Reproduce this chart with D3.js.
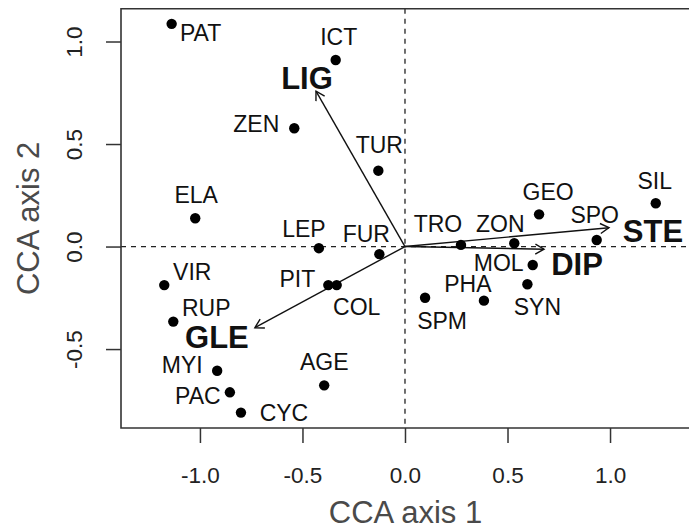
<!DOCTYPE html>
<html><head><meta charset="utf-8">
<script src="https://cdn.jsdelivr.net/npm/d3@7"></script>
<style>body{margin:0;background:#fff}svg{display:block}</style>
</head><body>
<svg id="c" width="689" height="529"></svg>
<script>
// species scores
const species = ["PAT","ICT","ZEN","ELA","LEP","TUR","FUR","TRO","ZON","GEO","SPO","SIL","MOL","SYN","PHA","SPM","COL","PIT","VIR","RUP","MYI","PAC","CYC","AGE"];
const axis1 = [-1.138,-0.338,-0.540,-1.023,-0.420,-0.130,-0.125,0.273,0.533,0.654,0.935,1.223,0.623,0.597,0.385,0.098,-0.333,-0.374,-1.174,-1.130,-0.916,-0.854,-0.800,-0.394];
const axis2 = [1.086,0.910,0.577,0.138,-0.008,0.370,-0.037,0.008,0.016,0.157,0.032,0.211,-0.090,-0.184,-0.264,-0.250,-0.188,-0.188,-0.188,-0.366,-0.606,-0.711,-0.810,-0.677];
// environmental vectors
const envVars = ["LIG","STE","DIP","GLE"];
const env1 = [-0.434,0.995,0.678,-0.732];
const env2 = [0.758,0.092,-0.013,-0.396];
// tick labels
const xTicks = [-1.0,-0.5,0.0,0.5,1.0];
const yTicks = [-0.5,0.0,0.5,1.0];

// label placement (pixel offsets of label centre from point) – layout only
const spLabelOff = {PAT:[29,9],ICT:[3,-23],ZEN:[-38,-4],ELA:[1,-23],LEP:[-15,-19],TUR:[1,-26],FUR:[-13,-20],TRO:[-23,-21],ZON:[-14,-19],GEO:[9,-23],SPO:[-2,-25],SIL:[-1,-22],MOL:[-34,-2],SYN:[10,23],PHA:[-16,-17],SPM:[17,23],COL:[20,22],PIT:[-31,-6],VIR:[28,-13],RUP:[33,-14],MYI:[-35,-6],PAC:[-32,3],CYC:[43,0],AGE:[0,-24]};
const envLabelOff = {LIG:[-9,-13],STE:[44,3],DIP:[33,15],GLE:[-38,9]};

const svg = d3.select("#c");
const L=121, R=690, T=8.7, B=428;
const x = d3.scaleLinear().domain([-1.385,1.39]).range([L,R]);
const y = d3.scaleLinear().domain([-0.885,1.16]).range([B,T]);
const font = "Liberation Sans, Arial, sans-serif";

// dashed zero lines
svg.append("line").attr("x1",x(0)).attr("x2",x(0)).attr("y1",T).attr("y2",B)
  .attr("stroke","#222").attr("stroke-width",1.3).attr("stroke-dasharray","5,5");
svg.append("line").attr("x1",L).attr("x2",R).attr("y1",y(0)).attr("y2",y(0))
  .attr("stroke","#222").attr("stroke-width",1.3).attr("stroke-dasharray","5,5");

// axes
const gx = svg.append("g").attr("transform",`translate(0,${B})`)
  .call(d3.axisBottom(x).tickValues(xTicks).tickFormat(d3.format(".1f")).tickSize(15).tickSizeOuter(0).tickPadding(24));
const gy = svg.append("g").attr("transform",`translate(${L},0)`)
  .call(d3.axisLeft(y).tickValues(yTicks).tickFormat(d3.format(".1f")).tickSize(15).tickSizeOuter(0));
[gx,gy].forEach(g=>{
  g.select(".domain").remove();
  g.selectAll(".tick line").attr("stroke","#333").attr("stroke-width",1.5);
  g.selectAll(".tick text").attr("font-family",font).attr("font-size",22.5).attr("fill","#222");
});
gx.selectAll(".tick text").text(d=>d3.format(".1f")(d).replace("−","-"));
gy.selectAll(".tick text").text(d=>d3.format(".1f")(d).replace("−","-"))
  .attr("x",0).attr("dy",null).attr("dominant-baseline",null)
  .attr("text-anchor","middle")
  .attr("transform","translate(-47,0) rotate(-90)")
  .attr("y",8);

// box (left, top, bottom)
svg.append("path").attr("d",`M${R},${T}H${L}V${B}H${R}`).attr("fill","none")
  .attr("stroke","#333").attr("stroke-width",1.6);

// axis titles
svg.append("text").attr("x",(L+R)/2).attr("y",523).attr("text-anchor","middle")
  .attr("font-family",font).attr("font-size",31).attr("fill","#4a4a4a").text("CCA axis 1");
svg.append("text").attr("transform",`translate(39,${(T+B)/2}) rotate(-90)`).attr("text-anchor","middle")
  .attr("font-family",font).attr("font-size",31).attr("fill","#4a4a4a").text("CCA axis 2");

// env arrows
envVars.forEach((v,i)=>{
  const x0=x(0), y0=y(0), x1=x(env1[i]), y1=y(env2[i]);
  const a=Math.atan2(y1-y0,x1-x0), len=10, ang=Math.PI/6;
  svg.append("line").attr("x1",x0).attr("y1",y0).attr("x2",x1).attr("y2",y1)
    .attr("stroke","#111").attr("stroke-width",1.4);
  svg.append("path").attr("d",`M${x1-len*Math.cos(a-ang)},${y1-len*Math.sin(a-ang)}L${x1},${y1}L${x1-len*Math.cos(a+ang)},${y1-len*Math.sin(a+ang)}`)
    .attr("fill","none").attr("stroke","#111").attr("stroke-width",1.4);
  const o=envLabelOff[v];
  svg.append("text").attr("x",x1+o[0]).attr("y",y1+o[1]+11).attr("text-anchor","middle")
    .attr("font-family",font).attr("font-size",31).attr("font-weight","bold").attr("fill","#111").text(v);
});

// species points and labels
species.forEach((s,i)=>{
  const px=x(axis1[i]), py=y(axis2[i]);
  svg.append("circle").attr("cx",px).attr("cy",py).attr("r",5.2).attr("fill","#000");
  const o=spLabelOff[s];
  svg.append("text").attr("x",px+o[0]).attr("y",py+o[1]+8.2).attr("text-anchor","middle")
    .attr("font-family",font).attr("font-size",23).attr("fill","#111").text(s);
});
</script>
</body></html>
